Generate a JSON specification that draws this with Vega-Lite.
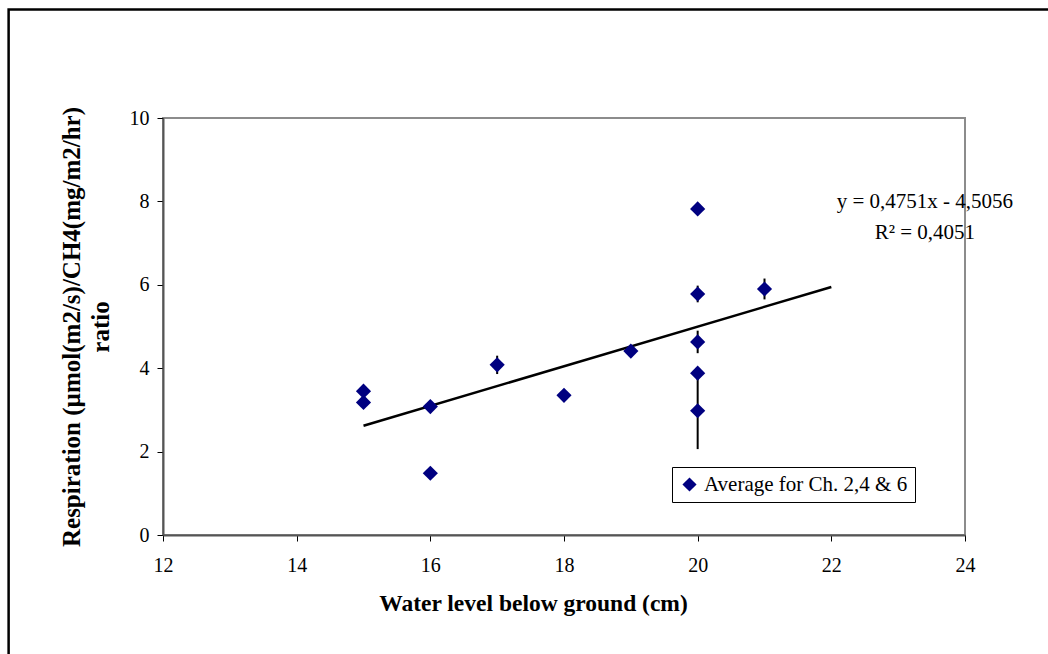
{
  "$schema": "https://vega.github.io/schema/vega-lite/v6.json",
  "width": 802,
  "height": 417,
  "autosize": "none",
  "padding": {"left": 163, "top": 118, "right": 83, "bottom": 119},
  "background": "white",
  "config": {
    "font": "Liberation Serif",
    "view": {"stroke": "#8c8c8c", "strokeWidth": 2},
    "axis": {
      "grid": false,
      "labelFlush": false,
      "labelFont": "Liberation Serif",
      "labelFontSize": 20,
      "labelColor": "black",
      "titleFont": "Liberation Serif",
      "titleFontWeight": "bold",
      "titleColor": "black",
      "domainColor": "#555555",
      "domainWidth": 2,
      "tickColor": "black",
      "tickSize": 6,
      "tickWidth": 1
    }
  },
  "datasets": {
    "pts": [
      {"level": 15, "ratio": 3.45, "lo": 3.4, "hi": 3.5, "series": "Average for Ch. 2,4 & 6"},
      {"level": 15, "ratio": 3.18, "lo": 3.13, "hi": 3.23, "series": "Average for Ch. 2,4 & 6"},
      {"level": 16, "ratio": 3.08, "lo": 3.03, "hi": 3.13, "series": "Average for Ch. 2,4 & 6"},
      {"level": 16, "ratio": 1.48, "lo": 1.45, "hi": 1.51, "series": "Average for Ch. 2,4 & 6"},
      {"level": 17, "ratio": 4.08, "lo": 3.86, "hi": 4.3, "series": "Average for Ch. 2,4 & 6"},
      {"level": 18, "ratio": 3.35, "lo": 3.32, "hi": 3.38, "series": "Average for Ch. 2,4 & 6"},
      {"level": 19, "ratio": 4.41, "lo": 4.34, "hi": 4.48, "series": "Average for Ch. 2,4 & 6"},
      {"level": 20, "ratio": 7.82, "lo": 7.77, "hi": 7.87, "series": "Average for Ch. 2,4 & 6"},
      {"level": 20, "ratio": 5.78, "lo": 5.58, "hi": 5.98, "series": "Average for Ch. 2,4 & 6"},
      {"level": 20, "ratio": 4.63, "lo": 4.36, "hi": 4.9, "series": "Average for Ch. 2,4 & 6"},
      {"level": 20, "ratio": 3.88, "lo": 3.73, "hi": 4.03, "series": "Average for Ch. 2,4 & 6"},
      {"level": 20, "ratio": 2.98, "lo": 2.06, "hi": 3.9, "series": "Average for Ch. 2,4 & 6"},
      {"level": 21, "ratio": 5.9, "lo": 5.65, "hi": 6.15, "series": "Average for Ch. 2,4 & 6"}
    ],
    "trend": [
      {"level": 15, "ratio": 2.621},
      {"level": 22, "ratio": 5.947}
    ],
    "notes": [
      {"level": 23.4, "ratio": 7.99, "label": "y = 0,4751x - 4,5056"},
      {"level": 23.4, "ratio": 7.24, "label": "R² = 0,4051"}
    ]
  },
  "layer": [
    {
      "data": {"values": [{}]},
      "mark": {"type": "rect", "filled": false, "color": "black", "strokeWidth": 2.5, "clip": false},
      "encoding": {
        "x": {"datum": 9.69, "type": "quantitative", "scale": {"domain": [12, 24], "zero": false}},
        "x2": {"datum": 26.5},
        "y": {"datum": 12.6, "type": "quantitative", "scale": {"domain": [0, 10]}},
        "y2": {"datum": -4.5}
      }
    },
    {
      "data": {"name": "pts"},
      "mark": {"type": "rule", "color": "black", "strokeWidth": 2},
      "encoding": {
        "x": {"field": "level", "type": "quantitative", "scale": {"domain": [12, 24], "zero": false},
              "axis": {"values": [12, 14, 16, 18, 20, 22, 24], "format": "d", "title": "Water level below ground (cm)", "titleFontSize": 23.5, "labelPadding": 14, "titlePadding": 16, "titleX": 370, "titleAnchor": "middle", "titleAlign": "center"}},
        "y": {"field": "lo", "type": "quantitative", "scale": {"domain": [0, 10]},
              "axis": {"values": [0, 2, 4, 6, 8, 10], "format": "d", "title": ["Respiration (µmol(m2/s)/CH4(mg/m2/hr)", "ratio"], "titleFontSize": 25, "labelPadding": 8, "titlePadding": 16, "titleLineHeight": 29}},
        "y2": {"field": "hi"}
      }
    },
    {
      "data": {"name": "trend"},
      "mark": {"type": "line", "color": "black", "strokeWidth": 2.5},
      "encoding": {
        "x": {"field": "level", "type": "quantitative"},
        "y": {"field": "ratio", "type": "quantitative"}
      }
    },
    {
      "data": {"name": "pts"},
      "mark": {"type": "point", "shape": "diamond", "filled": true, "size": 230, "opacity": 1},
      "encoding": {
        "x": {"field": "level", "type": "quantitative"},
        "y": {"field": "ratio", "type": "quantitative"},
        "color": {"field": "series", "type": "nominal", "scale": {"range": ["#000080"]},
          "legend": {"title": null, "orient": "none", "legendX": 509, "legendY": 349,
            "symbolType": "diamond", "symbolSize": 200, "symbolStrokeWidth": 0,
            "labelFont": "Liberation Serif", "labelFontSize": 21, "labelColor": "black",
            "strokeColor": "black", "fillColor": "white", "padding": 7, "labelLimit": 400}}
      }
    },
    {
      "data": {"name": "notes"},
      "mark": {"type": "text", "font": "Liberation Serif", "fontSize": 21, "color": "black", "align": "center", "baseline": "middle"},
      "encoding": {
        "x": {"field": "level", "type": "quantitative"},
        "y": {"field": "ratio", "type": "quantitative"},
        "text": {"field": "label"}
      }
    }
  ]
}
